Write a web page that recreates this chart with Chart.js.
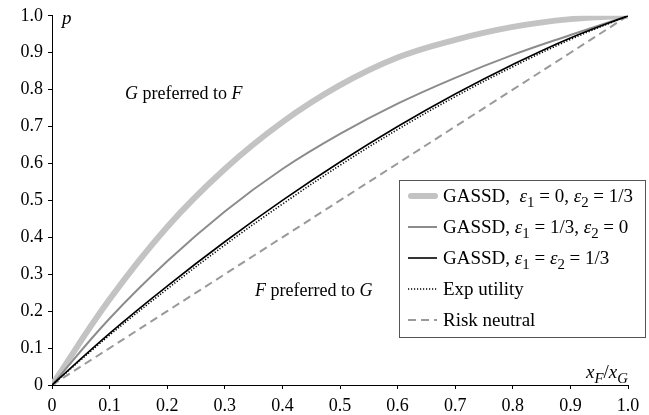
<!DOCTYPE html>
<html>
<head>
<meta charset="utf-8">
<script src="https://cdn.jsdelivr.net/npm/chart.js@4.4.1/dist/chart.umd.min.js"></script>
<style>
  html, body { margin: 0; padding: 0; background: #fff; }
  #wrap { width: 649px; height: 415px; position: relative; }
</style>
</head>
<body>
<div id="wrap"><canvas id="chart"></canvas></div>
<script>
  // x = x_F / x_G
  var xVals = [0, 0.1, 0.2, 0.3, 0.4, 0.5, 0.6, 0.7, 0.8, 0.9, 1.0];
  var gassdE0 = [0, 0.232, 0.428, 0.585, 0.712, 0.812, 0.887, 0.935, 0.97, 0.991, 1];   // eps1 = 0, eps2 = 1/3
  var gassdE2 = [0, 0.18, 0.335, 0.47, 0.585, 0.68, 0.762, 0.832, 0.894, 0.948, 1];     // eps1 = 1/3, eps2 = 0
  var gassdEq = [0, 0.14, 0.268, 0.388, 0.50, 0.604, 0.70, 0.788, 0.868, 0.94, 1];      // eps1 = eps2 = 1/3
  var expUtil = [0, 0.135, 0.26, 0.379, 0.49, 0.595, 0.692, 0.781, 0.862, 0.936, 1];
  var riskNeutral = [0, 0.1, 0.2, 0.3, 0.4, 0.5, 0.6, 0.7, 0.8, 0.9, 1.0];
  var xTickLabels = ['0', '0.1', '0.2', '0.3', '0.4', '0.5', '0.6', '0.7', '0.8', '0.9', '1.0'];
  var yTickLabels = ['0', '0.1', '0.2', '0.3', '0.4', '0.5', '0.6', '0.7', '0.8', '0.9', '1.0'];

  var SERIF = '"Liberation Serif", "DejaVu Serif", serif';

  function pts(ys) {
    return xVals.map(function (x, i) { return { x: x, y: ys[i] }; });
  }

  var series = [
    { label: 'e0', data: gassdE0, color: '#c3c3c3', width: 6, dash: [], order: 5 },
    { label: 'e2', data: gassdE2, color: '#8c8c8c', width: 2, dash: [], order: 4 },
    { label: 'eq', data: gassdEq, color: '#000000', width: 1.6, dash: [], order: 2 },
    { label: 'exp', data: expUtil, color: '#000000', width: 1.6, dash: [1.2, 1.8], order: 1 },
    { label: 'rn', data: riskNeutral, color: '#999999', width: 2, dash: [8, 5], order: 3 }
  ];

  // legend rows: runs of text; i = italic, sub = subscript
  var legendRows = [
    [{ t: 'GASSD,  ' }, { t: 'ε', i: true }, { t: '1', sub: true }, { t: ' = 0, ' }, { t: 'ε', i: true }, { t: '2', sub: true }, { t: ' = 1/3' }],
    [{ t: 'GASSD, ' }, { t: 'ε', i: true }, { t: '1', sub: true }, { t: ' = 1/3, ' }, { t: 'ε', i: true }, { t: '2', sub: true }, { t: ' = 0' }],
    [{ t: 'GASSD, ' }, { t: 'ε', i: true }, { t: '1', sub: true }, { t: ' = ' }, { t: 'ε', i: true }, { t: '2', sub: true }, { t: ' = 1/3' }],
    [{ t: 'Exp utility' }],
    [{ t: 'Risk neutral' }]
  ];

  function drawRuns(ctx, runs, x, y, size) {
    ctx.textBaseline = 'alphabetic';
    ctx.textAlign = 'left';
    runs.forEach(function (r) {
      var s = r.sub ? size * 0.78 : size;
      ctx.font = (r.i ? 'italic ' : '') + s + 'px ' + SERIF;
      ctx.fillText(r.t, x, r.sub ? y + size * 0.25 : y);
      x += ctx.measureText(r.t).width;
    });
    return x;
  }

  function runsWidth(ctx, runs, size) {
    var w = 0;
    runs.forEach(function (r) {
      var s = r.sub ? size * 0.78 : size;
      ctx.font = (r.i ? 'italic ' : '') + s + 'px ' + SERIF;
      w += ctx.measureText(r.t).width;
    });
    return w;
  }

  var decorations = {
    id: 'decorations',
    afterDraw: function (chart) {
      var ctx = chart.ctx;
      ctx.save();
      ctx.fillStyle = '#000';

      // axis titles
      drawRuns(ctx, [{ t: 'p', i: true }], 62, 24, 19);
      var xt = [{ t: 'x', i: true }, { t: 'F', i: true, sub: true }, { t: '/' }, { t: 'x', i: true }, { t: 'G', i: true, sub: true }];
      drawRuns(ctx, xt, 628 - runsWidth(ctx, xt, 19), 378, 19);

      // regions
      drawRuns(ctx, [{ t: 'G', i: true }, { t: ' preferred to ' }, { t: 'F', i: true }], 125, 99, 18);
      drawRuns(ctx, [{ t: 'F', i: true }, { t: ' preferred to ' }, { t: 'G', i: true }], 255, 296, 18);

      // legend box
      var bx = 399.5, by = 180.5, bw = 246, bh = 157;
      ctx.fillStyle = '#fff';
      ctx.fillRect(bx, by, bw, bh);
      ctx.strokeStyle = '#555';
      ctx.lineWidth = 1;
      ctx.setLineDash([]);
      ctx.strokeRect(bx, by, bw, bh);

      var rowY = [196, 227, 258, 289, 320];
      series.forEach(function (s, i) {
        var y = rowY[i];
        ctx.save();
        ctx.strokeStyle = s.color;
        ctx.lineWidth = s.width;
        ctx.lineCap = s.width > 3 ? 'round' : 'butt';
        ctx.setLineDash(s.dash);
        ctx.beginPath();
        ctx.moveTo(s.width > 3 ? 411 : 408, y);
        ctx.lineTo(s.width > 3 ? 435 : 437, y);
        ctx.stroke();
        ctx.restore();
        ctx.fillStyle = '#000';
        drawRuns(ctx, legendRows[i], 443, y + 6, 19);
      });
      ctx.restore();
    }
  };

  new Chart(document.getElementById('chart'), {
    type: 'line',
    data: {
      datasets: series.map(function (s) {
        return {
          label: s.label,
          data: pts(s.data),
          borderColor: s.color,
          borderWidth: s.width,
          borderDash: s.dash,
          borderCapStyle: s.width > 3 ? 'round' : 'butt',
          pointRadius: 0,
          fill: false,
          tension: 0.4,
          order: s.order
        };
      })
    },
    options: {
      responsive: true,
      maintainAspectRatio: false,
      animation: false,
      layout: { padding: { top: 12, right: 21, left: 0, bottom: 0 } },
      plugins: { legend: { display: false }, tooltip: { enabled: false } },
      scales: {
        x: {
          type: 'linear',
          min: 0,
          max: 1,
          afterFit: function (scale) { scale.height = 30; },
          ticks: {
            stepSize: 0.1,
            maxRotation: 0,
            padding: 6,
            color: '#000',
            font: { family: SERIF, size: 18 },
            callback: function (v, i) { return xTickLabels[i]; }
          },
          grid: { drawOnChartArea: false, drawTicks: true, tickLength: 4, color: '#000' },
          border: { color: '#000', width: 1 }
        },
        y: {
          min: 0,
          max: 1,
          afterFit: function (scale) { scale.width = 52; },
          ticks: {
            stepSize: 0.1,
            padding: 5,
            color: '#000',
            font: { family: SERIF, size: 18 },
            callback: function (v, i) { return yTickLabels[i]; }
          },
          grid: { drawOnChartArea: false, drawTicks: true, tickLength: 4, color: '#000' },
          border: { color: '#000', width: 1 }
        }
      }
    },
    plugins: [decorations]
  });
</script>
</body>
</html>
